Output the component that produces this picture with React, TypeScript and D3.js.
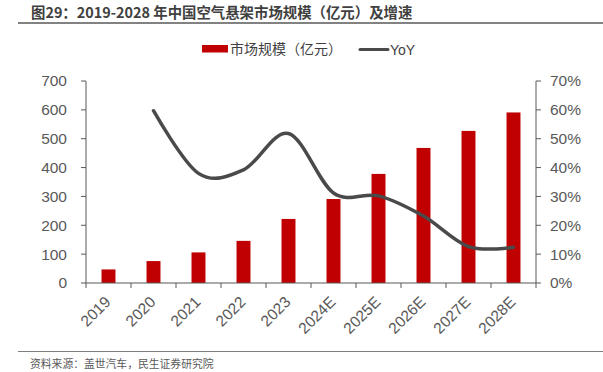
import * as d3 from 'd3';

// values
const years = ['2019', '2020', '2021', '2022', '2023', '2024E', '2025E', '2026E', '2027E', '2028E'];
const marketSize = [47, 76, 106, 146, 222, 291, 378, 468, 527, 591];
const yoy = [null, 0.597, 0.38, 0.392, 0.518, 0.312, 0.302, 0.232, 0.126, 0.124];
const leftTicks = [0, 100, 200, 300, 400, 500, 600, 700];
const rightTicks = [0, 0.1, 0.2, 0.3, 0.4, 0.5, 0.6, 0.7];

const W = 603;
const H = 372;
const PLOT = { left: 86, right: 536, top: 81, bottom: 283 };

const CJK = '"Noto Sans CJK SC", "Noto Sans", sans-serif';
const NUM = '"Liberation Sans", Arial, sans-serif';
const AXIS = '#595959';
const TEXT = '#404040';
const TICK_FONT = 15.5;

export default function App() {
  const x = d3.scaleBand().domain(years).range([PLOT.left, PLOT.right]).paddingInner(0.69).paddingOuter(0.345);
  const band = d3.scaleBand().domain(years).range([PLOT.left, PLOT.right]);
  const yL = d3.scaleLinear().domain([0, 700]).range([PLOT.bottom, PLOT.top]);
  const yR = d3.scaleLinear().domain([0, 0.7]).range([PLOT.bottom, PLOT.top]);

  const pts = years
    .map((yr, i) => ({ yr, v: yoy[i] }))
    .filter((d) => d.v != null) as { yr: string; v: number }[];
  const line = d3
    .line<{ yr: string; v: number }>()
    .x((d) => (band(d.yr) as number) + band.bandwidth() / 2)
    .y((d) => yR(d.v))
    .curve(d3.curveCardinal.tension(0));

  return (
    <svg width={W} height={H} style={{ display: 'block', position: 'absolute', left: 0, top: 0 }}>
      <rect width={W} height={H} fill="#fff" />

      {/* title */}
      <text x={31} y={18} fontFamily={CJK} fontSize={14.4} fontWeight="bold" fill={TEXT} style={{ whiteSpace: 'pre' }}>
        {'图29：2019-2028 年中国空气悬架市场规模（亿元）及增速'}
      </text>
      <line x1={18} x2={W} y1={23} y2={23} stroke={AXIS} strokeWidth={1.5} />

      {/* legend */}
      <rect x={202} y={45} width={26} height={7.5} fill="#C00000" />
      <text x={230} y={54} fontFamily={CJK} fontSize={14} fill={TEXT}>市场规模（亿元）</text>
      <line x1={360} x2={388} y1={49.5} y2={49.5} stroke="#4a4a4a" strokeWidth={3} strokeLinecap="round" />
      <text x={390} y={54.5} fontFamily={NUM} fontSize={14} fill={TEXT}>YoY</text>

      {/* bars */}
      {years.map((yr, i) => (
        <rect
          key={yr}
          x={x(yr)}
          y={yL(marketSize[i])}
          width={x.bandwidth()}
          height={PLOT.bottom - yL(marketSize[i])}
          fill="#C00000"
        />
      ))}

      {/* left axis */}
      <line x1={PLOT.left} x2={PLOT.left} y1={PLOT.top} y2={PLOT.bottom} stroke={AXIS} strokeWidth={1} />
      {leftTicks.map((t) => (
        <g key={t}>
          <line x1={PLOT.left - 5} x2={PLOT.left} y1={yL(t)} y2={yL(t)} stroke={AXIS} />
          <text x={67} y={yL(t)} dy="0.35em" textAnchor="end" fontFamily={NUM} fontSize={TICK_FONT} fill={AXIS}>
            {t}
          </text>
        </g>
      ))}

      {/* right axis */}
      <line x1={PLOT.right} x2={PLOT.right} y1={PLOT.top} y2={PLOT.bottom} stroke={AXIS} strokeWidth={1} />
      {rightTicks.map((t) => (
        <g key={t}>
          <line x1={PLOT.right} x2={PLOT.right + 5} y1={yR(t)} y2={yR(t)} stroke={AXIS} />
          <text x={550} y={yR(t)} dy="0.35em" fontFamily={NUM} fontSize={TICK_FONT} fill={AXIS}>
            {d3.format('.0%')(t)}
          </text>
        </g>
      ))}

      {/* bottom axis */}
      <line x1={PLOT.left} x2={PLOT.right} y1={PLOT.bottom} y2={PLOT.bottom} stroke={AXIS} strokeWidth={1.2} />
      {years.map((yr) => (
        <line
          key={'t' + yr}
          x1={band(yr)}
          x2={band(yr)}
          y1={PLOT.bottom}
          y2={PLOT.bottom + 5}
          stroke={AXIS}
        />
      ))}
      <line x1={PLOT.right} x2={PLOT.right} y1={PLOT.bottom} y2={PLOT.bottom + 5} stroke={AXIS} />
      {years.map((yr) => {
        const cx = (band(yr) as number) + band.bandwidth() / 2;
        return (
          <text
            key={'l' + yr}
            transform={`translate(${cx + 3},${PLOT.bottom + 20}) rotate(-45)`}
            textAnchor="end"
            fontFamily={NUM}
            fontSize={TICK_FONT}
            fill={AXIS}
          >
            {yr}
          </text>
        );
      })}

      {/* yoy line */}
      <path d={line(pts) ?? ''} fill="none" stroke="#4a4a4a" strokeWidth={3.5} strokeLinecap="round" />

      {/* source */}
      <line x1={18} x2={W} y1={351.5} y2={351.5} stroke="#7f7f7f" strokeWidth={1} />
      <text x={30} y={368} fontFamily={CJK} fontSize={10.8} fill={AXIS}>
        资料来源：盖世汽车，民生证券研究院
      </text>
    </svg>
  );
}
